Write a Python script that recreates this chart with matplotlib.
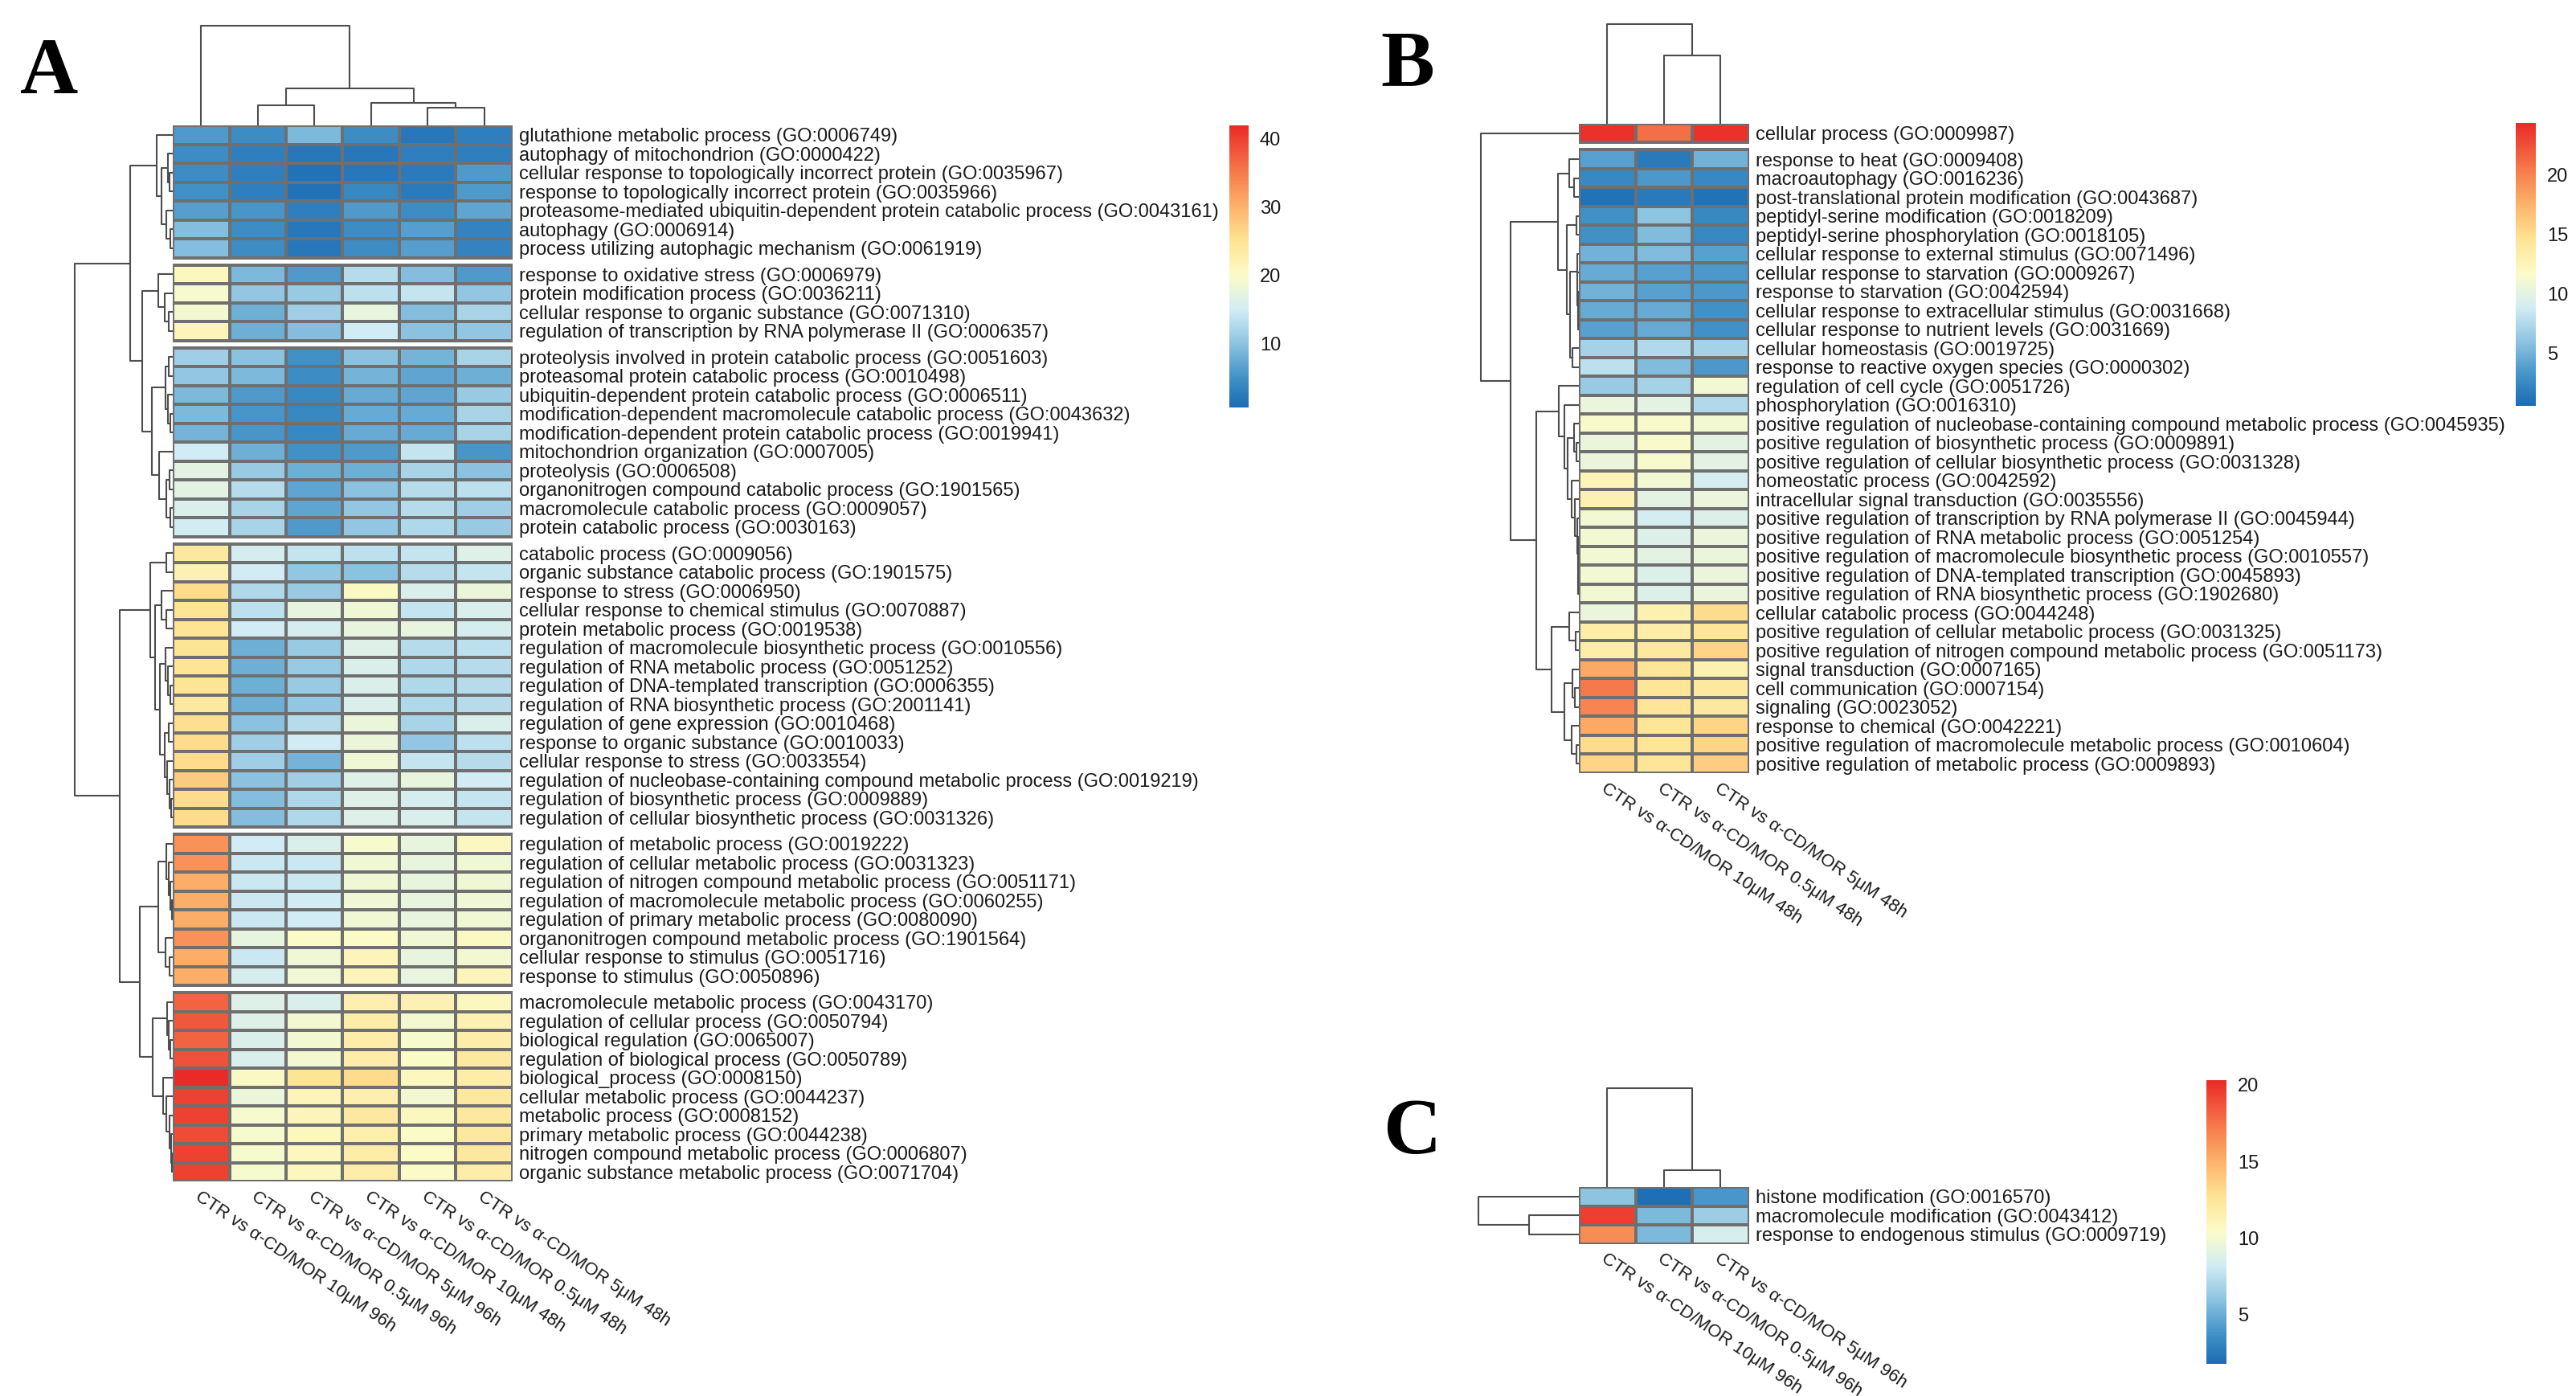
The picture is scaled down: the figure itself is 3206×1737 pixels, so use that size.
import numpy as np
import matplotlib
matplotlib.use("Agg")
import matplotlib.pyplot as plt
from matplotlib.colors import LinearSegmentedColormap, Normalize
from matplotlib.cm import ScalarMappable

plt.rcParams['font.family'] = ['Liberation Sans', 'DejaVu Sans']

# ---------------- DATA ----------------
a_rows = [
    "glutathione metabolic process (GO:0006749)",
    "autophagy of mitochondrion (GO:0000422)",
    "cellular response to topologically incorrect protein (GO:0035967)",
    "response to topologically incorrect protein (GO:0035966)",
    "proteasome-mediated ubiquitin-dependent protein catabolic process (GO:0043161)",
    "autophagy (GO:0006914)",
    "process utilizing autophagic mechanism (GO:0061919)",
    "response to oxidative stress (GO:0006979)",
    "protein modification process (GO:0036211)",
    "cellular response to organic substance (GO:0071310)",
    "regulation of transcription by RNA polymerase II (GO:0006357)",
    "proteolysis involved in protein catabolic process (GO:0051603)",
    "proteasomal protein catabolic process (GO:0010498)",
    "ubiquitin-dependent protein catabolic process (GO:0006511)",
    "modification-dependent macromolecule catabolic process (GO:0043632)",
    "modification-dependent protein catabolic process (GO:0019941)",
    "mitochondrion organization (GO:0007005)",
    "proteolysis (GO:0006508)",
    "organonitrogen compound catabolic process (GO:1901565)",
    "macromolecule catabolic process (GO:0009057)",
    "protein catabolic process (GO:0030163)",
    "catabolic process (GO:0009056)",
    "organic substance catabolic process (GO:1901575)",
    "response to stress (GO:0006950)",
    "cellular response to chemical stimulus (GO:0070887)",
    "protein metabolic process (GO:0019538)",
    "regulation of macromolecule biosynthetic process (GO:0010556)",
    "regulation of RNA metabolic process (GO:0051252)",
    "regulation of DNA-templated transcription (GO:0006355)",
    "regulation of RNA biosynthetic process (GO:2001141)",
    "regulation of gene expression (GO:0010468)",
    "response to organic substance (GO:0010033)",
    "cellular response to stress (GO:0033554)",
    "regulation of nucleobase-containing compound metabolic process (GO:0019219)",
    "regulation of biosynthetic process (GO:0009889)",
    "regulation of cellular biosynthetic process (GO:0031326)",
    "regulation of metabolic process (GO:0019222)",
    "regulation of cellular metabolic process (GO:0031323)",
    "regulation of nitrogen compound metabolic process (GO:0051171)",
    "regulation of macromolecule metabolic process (GO:0060255)",
    "regulation of primary metabolic process (GO:0080090)",
    "organonitrogen compound metabolic process (GO:1901564)",
    "cellular response to stimulus (GO:0051716)",
    "response to stimulus (GO:0050896)",
    "macromolecule metabolic process (GO:0043170)",
    "regulation of cellular process (GO:0050794)",
    "biological regulation (GO:0065007)",
    "regulation of biological process (GO:0050789)",
    "biological_process (GO:0008150)",
    "cellular metabolic process (GO:0044237)",
    "metabolic process (GO:0008152)",
    "primary metabolic process (GO:0044238)",
    "nitrogen compound metabolic process (GO:0006807)",
    "organic substance metabolic process (GO:0071704)",
]
a_cols = ["CTR vs α-CD/MOR 10μM 96h", "CTR vs α-CD/MOR 0.5μM 96h", "CTR vs α-CD/MOR 5μM 96h",
          "CTR vs α-CD/MOR 10μM 48h", "CTR vs α-CD/MOR 0.5μM 48h", "CTR vs α-CD/MOR 5μM 48h"]
a_groups = [7, 4, 10, 15, 8, 10]
a_values = [
    [6, 4.5, 9, 4.5, 2, 3],
    [4.5, 3, 2, 2, 3, 3],
    [4.5, 3, 1.5, 2, 2.5, 6],
    [5, 3, 1.5, 4, 2.5, 6],
    [6.5, 5.5, 3, 6, 4.5, 7],
    [9.5, 4.5, 2, 4.5, 6.5, 3.5],
    [9.5, 4.5, 2, 4.5, 6.5, 3.5],
    [21, 9, 6, 13, 9.5, 6],
    [19.5, 10.5, 11, 13.5, 14, 10.5],
    [19, 8, 11.5, 17.5, 9.5, 12],
    [21.5, 8, 9.5, 15, 10, 10.5],
    [11.5, 10, 5, 10, 8.5, 12],
    [10.5, 9, 4.5, 8.5, 7, 8],
    [9, 6, 4, 7.5, 7, 11],
    [9, 5.5, 4, 7.5, 7.5, 12],
    [8.5, 5.5, 4, 7.5, 7.5, 12],
    [15, 8, 5, 6, 14, 5.5],
    [17, 11, 8, 8, 12, 10],
    [17, 13, 7, 10, 13, 13.5],
    [16, 12, 7, 10.5, 13, 11.5],
    [15, 12, 6, 10.5, 12.5, 11],
    [24, 15.5, 14, 13.5, 14, 16.5],
    [22, 15, 10.5, 10, 13, 14],
    [26, 12.5, 11, 20.5, 16, 18],
    [25, 13.5, 17.5, 18.5, 14, 16],
    [25, 15, 15.5, 17.5, 17.5, 15.5],
    [25, 8, 11, 16.5, 13, 13.5],
    [25, 8, 11, 16, 12.5, 13],
    [25, 8, 11, 16, 12.5, 13],
    [24, 8, 10.5, 16, 12.5, 13],
    [25.5, 10, 13, 18, 12, 16],
    [26, 11.5, 15, 18, 10.5, 13.5],
    [26, 11.5, 8.5, 18.5, 14, 13],
    [27.5, 10, 11.5, 16.5, 17.5, 15],
    [26, 9.5, 12.5, 16.5, 15.5, 14],
    [26, 9.5, 12.5, 16.5, 16, 14],
    [33, 15, 16, 19.5, 17.5, 21],
    [33, 14.5, 14.5, 18.5, 17.5, 18.5],
    [30.5, 14.5, 14.5, 18.5, 17.5, 18.5],
    [30.5, 14.5, 15, 18.5, 17.5, 18.5],
    [30.5, 14.5, 15, 18.5, 17.5, 18.5],
    [33, 17.5, 20, 20, 18.5, 20.5],
    [30.5, 14.5, 18.5, 21.5, 17.5, 19],
    [30.5, 15.5, 18.5, 21.5, 17.5, 21.5],
    [37, 16.5, 16, 22.5, 22, 21],
    [38, 16.5, 19, 23, 19, 22],
    [37, 16, 19, 23, 19.5, 23],
    [38.5, 16, 19, 23, 20, 24],
    [42, 20.5, 25, 26, 21, 23],
    [40, 18, 21.5, 22.5, 19, 24],
    [40, 19.5, 21.5, 24, 21, 24],
    [39, 19.5, 21, 22.5, 20, 24],
    [40, 19.5, 21, 23, 20, 24],
    [40, 19.5, 21, 23, 20, 23],
]
a_range = (0.7, 42.0)
a_ticks = [10, 20, 30, 40]
# dendrograms: (height, left, right); leaves are row/column indices
a_row_tree = (122,
              (53,
               (20, 0, (14, (6, 1, (4, 2, 3)), (8, 4, (3, 5, 6)))),
               (38,
                (18, 7, (10, 8, (5, 9, 10))),
                (26, (9, (5, 11, 12), (6, 13, (3, 14, 15))),
                 (17, 16, (8, (4, 17, 18), (3, 19, 20)))))),
              (66,
               (28, (8, 21, 22),
                (22, (14, 23, (8, 24, 25)),
                 (16, (9, 26, (6, 27, (3, 28, 29))),
                  (10, (5, 30, 31), (7, 32, (4, 33, (2, 34, 35))))))),
               (41,
                (18, (8, 36, (5, 37, (3, 38, (1.5, 39, 40)))), (9, 41, (4, 42, 43))),
                (25, (7, 44, (5, 45, (3, 46, 47))),
                 (12, 48, (8, 49, (4, 50, (2.5, 51, (1.5, 52, 53)))))))))
a_col_tree = (124, 0, (46, (25, 1, 2), (28, 3, (22, 4, 5))))

b_rows = [
    "cellular process (GO:0009987)",
    "response to heat (GO:0009408)",
    "macroautophagy (GO:0016236)",
    "post-translational protein modification (GO:0043687)",
    "peptidyl-serine modification (GO:0018209)",
    "peptidyl-serine phosphorylation (GO:0018105)",
    "cellular response to external stimulus (GO:0071496)",
    "cellular response to starvation (GO:0009267)",
    "response to starvation (GO:0042594)",
    "cellular response to extracellular stimulus (GO:0031668)",
    "cellular response to nutrient levels (GO:0031669)",
    "cellular homeostasis (GO:0019725)",
    "response to reactive oxygen species (GO:0000302)",
    "regulation of cell cycle (GO:0051726)",
    "phosphorylation (GO:0016310)",
    "positive regulation of nucleobase-containing compound metabolic process (GO:0045935)",
    "positive regulation of biosynthetic process (GO:0009891)",
    "positive regulation of cellular biosynthetic process (GO:0031328)",
    "homeostatic process (GO:0042592)",
    "intracellular signal transduction (GO:0035556)",
    "positive regulation of transcription by RNA polymerase II (GO:0045944)",
    "positive regulation of RNA metabolic process (GO:0051254)",
    "positive regulation of macromolecule biosynthetic process (GO:0010557)",
    "positive regulation of DNA-templated transcription (GO:0045893)",
    "positive regulation of RNA biosynthetic process (GO:1902680)",
    "cellular catabolic process (GO:0044248)",
    "positive regulation of cellular metabolic process (GO:0031325)",
    "positive regulation of nitrogen compound metabolic process (GO:0051173)",
    "signal transduction (GO:0007165)",
    "cell communication (GO:0007154)",
    "signaling (GO:0023052)",
    "response to chemical (GO:0042221)",
    "positive regulation of macromolecule metabolic process (GO:0010604)",
    "positive regulation of metabolic process (GO:0009893)",
]
b_cols = ["CTR vs α-CD/MOR 10μM 48h", "CTR vs α-CD/MOR 0.5μM 48h", "CTR vs α-CD/MOR 5μM 48h"]
b_groups = [1, 33]
b_values = [
    [24, 21, 24],
    [4, 1.5, 5],
    [2.5, 3.5, 2.5],
    [1, 1.5, 1],
    [3, 6, 2.5],
    [3, 5.5, 2.5],
    [5, 5.5, 4],
    [4.5, 4, 3.5],
    [5, 4, 3.5],
    [4.5, 4.5, 3],
    [4, 4.5, 3],
    [7, 7.5, 7],
    [8, 5.5, 3.5],
    [6.5, 7, 11],
    [10.5, 10, 7.5],
    [11.5, 11.5, 11],
    [10.5, 11.5, 10],
    [10.5, 11.5, 10],
    [12.5, 11, 9],
    [13, 10, 10.5],
    [11, 9, 9.5],
    [11, 9.5, 10.5],
    [11, 10, 10.5],
    [11, 9.5, 10.5],
    [11, 9.5, 10.5],
    [10.5, 13, 15],
    [13.5, 13.5, 14.5],
    [13.5, 14, 15.5],
    [18, 14.5, 13],
    [20.5, 14.5, 14],
    [20, 14.5, 14],
    [18, 14.5, 15.5],
    [15, 14.5, 15.5],
    [15.5, 14.5, 16],
]
b_range = (0.56, 24.4)
b_ticks = [5, 10, 15, 20]
b_row_tree = (122, 0,
              (85,
               (26, (12, 1, (6, 2, 3)),
                (15, (3, 4, 5), (11, (2.5, 6, (2, 7, (1.5, 8, (1, 9, 10)))), (8, 11, 12)))),
               (53,
                (25, 13, (18, 14, (14, (6, 15, (3, 16, 17)),
                                   (9, 18, (5, 19, (2, 20, (1.5, 21, (1.2, 22, (1, 23, 24))))))))),
                (34, (12, 25, (4, 26, 27)),
                 (18, (8, 28, (5, 29, 30)), (9, 31, (3, 32, 33)))))))
b_col_tree = (124, 0, (85, 1, 2))

c_rows = ["histone modification (GO:0016570)",
          "macromolecule modification (GO:0043412)",
          "response to endogenous stimulus (GO:0009719)"]
c_cols = ["CTR vs α-CD/MOR 10μM 96h", "CTR vs α-CD/MOR 0.5μM 96h", "CTR vs α-CD/MOR 5μM 96h"]
c_groups = [3]
c_values = [
    [6, 2, 4],
    [19.5, 5.5, 6.5],
    [16.5, 5.5, 8.5],
]
c_range = (1.8, 20.3)
c_ticks = [5, 10, 15, 20]
c_row_tree = (125, 0, (62, 1, 2))
c_col_tree = (123, 0, (21, 1, 2))

# ---------------- STYLE ----------------
W, H, DPI = 3206, 1737, 200
ROW_PX = 23.5
GAP = 9 / ROW_PX
COL_PX = 70.5
EDGE = '#6f6f6f'
DCOL = '#4d4d4d'
TXT = '#1a1a1a'
FS = 8.5
FS_COL = 8.0
ROT = -34

cmap = LinearSegmentedColormap.from_list(
    'pal', list(zip([0, 0.105, 0.225, 0.346, 0.467, 0.588, 0.709, 0.83, 1.0],
                    ["#1b6cb4", "#4291c7", "#8cc3e0", "#d2ecf4", "#fbfbc8",
                     "#fee495", "#fdb46b", "#f67d4d", "#e92a28"])))

fig = plt.figure(figsize=(W / DPI, H / DPI), dpi=DPI)


def px_axes(x0, y0, x1, y1):
    ax = fig.add_axes([x0 / W, 1 - y1 / H, (x1 - x0) / W, (y1 - y0) / H])
    for s in ax.spines.values():
        s.set_visible(False)
    ax.set_xticks([])
    ax.set_yticks([])
    ax.patch.set_alpha(0)
    return ax


def layout(groups):
    centers, blocks, y = [], [], 0.0
    for g in groups:
        blocks.append((y, g))
        centers.extend(list(y + np.arange(g) + 0.5))
        y += g + GAP
    return np.array(centers), blocks, y - GAP


def tree_segments(node, pos):
    if isinstance(node, int):
        return pos[node], 0.0, []
    h, l, r = node
    pl, hl, sl = tree_segments(l, pos)
    pr, hr, sr = tree_segments(r, pos)
    return (pl + pr) / 2, h, sl + sr + [([pl, pl, pr, pr], [hl, h, h, hr])]


def panel(values, rows, cols, groups, vrange, row_tree, col_tree, left, top, dendro_w, cbar_box, ticks):
    vals = np.array(values, dtype=float)
    ncol = vals.shape[1]
    centers, blocks, total = layout(groups)
    width = ncol * COL_PX
    height = total * ROW_PX
    ax = px_axes(left, top, left + width, top + height)
    norm = Normalize(*vrange)
    start = 0
    for (y0, g) in blocks:
        ax.pcolormesh(np.arange(ncol + 1), y0 + np.arange(g + 1), vals[start:start + g],
                      cmap=cmap, norm=norm, edgecolors=EDGE, linewidth=0.8)
        start += g
    ax.set_xlim(0, ncol)
    ax.set_ylim(total, 0)
    ax.yaxis.tick_right()
    ax.set_yticks(centers)
    ax.set_yticklabels(rows, fontsize=FS, color=TXT)
    ax.set_xticks(np.arange(ncol) + 0.5)
    ax.set_xticklabels(cols, fontsize=FS_COL, color=TXT, rotation=ROT, ha='left',
                       va='top', rotation_mode='anchor')
    ax.tick_params(length=0, pad=3)
    ax.tick_params(axis='x', pad=3)

    # row dendrogram
    rd = px_axes(left - dendro_w, top, left, top + height)
    _, _, segs = tree_segments(row_tree, centers)
    for ps, hs in segs:
        rd.plot(hs, ps, color=DCOL, lw=0.75, solid_capstyle='butt')
    rd.set_xlim(dendro_w, 0)
    rd.set_ylim(total, 0)

    # column dendrogram
    cd = px_axes(left, top - 140, left + width, top)
    _, _, segs = tree_segments(col_tree, np.arange(ncol) + 0.5)
    for ps, hs in segs:
        cd.plot(ps, hs, color=DCOL, lw=0.75, solid_capstyle='butt')
    cd.set_xlim(0, ncol)
    cd.set_ylim(0, 140)

    # colorbar
    cax = fig.add_axes([cbar_box[0] / W, 1 - cbar_box[3] / H,
                        (cbar_box[2] - cbar_box[0]) / W, (cbar_box[3] - cbar_box[1]) / H])
    cb = fig.colorbar(ScalarMappable(norm=norm, cmap=cmap), cax=cax, ticks=ticks)
    cb.outline.set_visible(False)
    cb.ax.tick_params(length=0, labelsize=FS, pad=5, labelcolor=TXT)


panel(a_values, a_rows, a_cols, a_groups, a_range, a_row_tree, a_col_tree,
      215, 156, 140, (1530, 156, 1554, 507), a_ticks)
panel(b_values, b_rows, b_cols, b_groups, b_range, b_row_tree, b_col_tree,
      1965, 154, 140, (3131, 153, 3156, 505), b_ticks)
panel(c_values, c_rows, c_cols, c_groups, c_range, c_row_tree, c_col_tree,
      1965, 1477, 140, (2746, 1344, 2771, 1697), c_ticks)

for letter, x, y in [("A", 61, 92), ("B", 1752, 82), ("C", 1757, 1411)]:
    fig.text(x / W, 1 - y / H, letter, family='Liberation Serif', weight='bold',
             fontsize=36, ha='center', va='center', color='black')

fig.savefig("out.png", dpi=DPI, facecolor='white')
